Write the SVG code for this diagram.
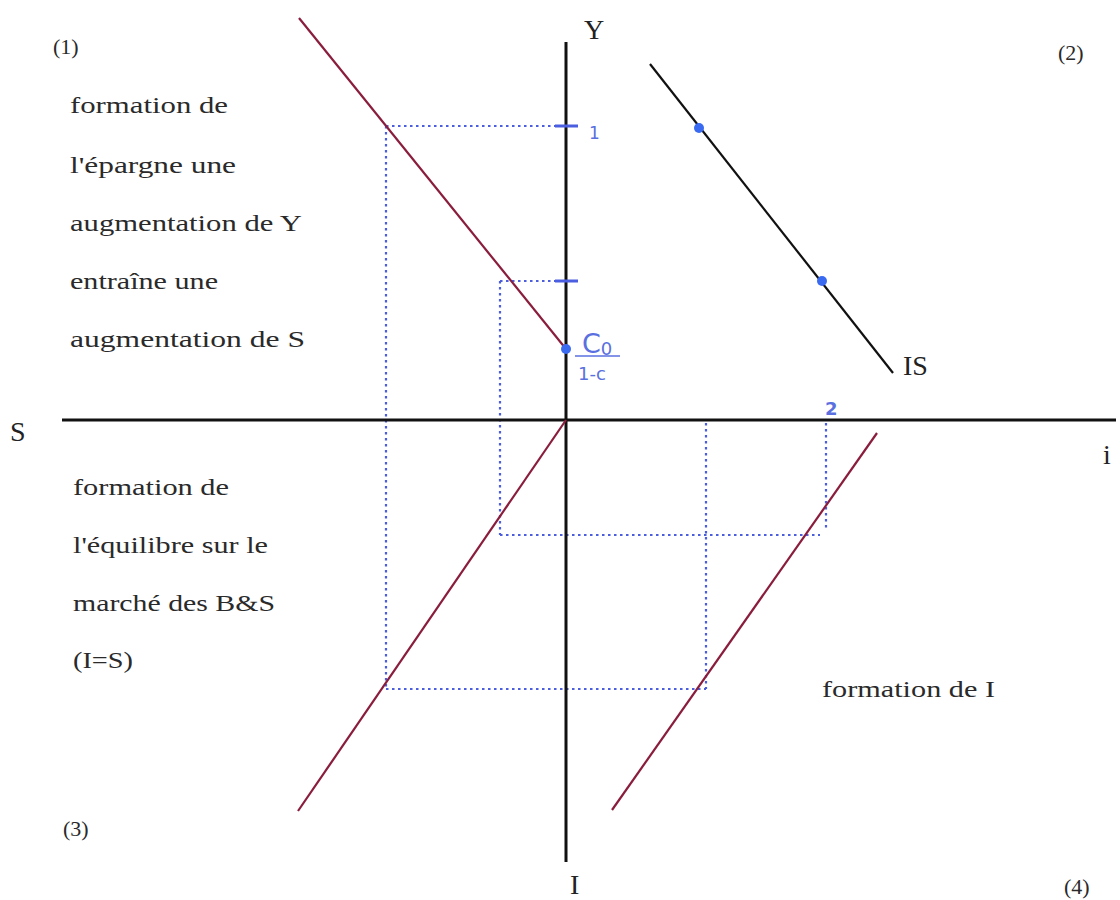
<svg xmlns="http://www.w3.org/2000/svg" width="1120" height="900" viewBox="0 0 1120 900">
<style>
.t{font-family:"Liberation Serif","DejaVu Serif",serif;fill:#2a2a2a;font-size:24px}
.n{font-family:"Liberation Serif","DejaVu Serif",serif;fill:#2a2a2a;font-size:22px}
.big{font-family:"Liberation Serif","DejaVu Serif",serif;fill:#222;font-size:28px}
.blue{font-family:"DejaVu Sans","Liberation Sans",sans-serif;fill:#5a6fe0}
.axis{stroke:#111;stroke-width:3;fill:none}
.red{stroke:#8a1c3c;stroke-width:2.2;fill:none}
.dot{stroke:#4b5ee0;stroke-width:2.2;stroke-dasharray:2.5 3.5;fill:none}
.tick{stroke:#4b5ee0;stroke-width:3}
.pt{fill:#3a6af0}
</style>
<rect width="1120" height="900" fill="#fff"/>
<g id="guides">
<line class="dot" x1="386" y1="126" x2="555" y2="126"/>
<line class="dot" x1="500" y1="281" x2="555" y2="281"/>
<line class="dot" x1="386" y1="126" x2="386" y2="689"/>
<line class="dot" x1="500" y1="281" x2="500" y2="535"/>
<line class="dot" x1="500" y1="535" x2="820" y2="535"/>
<line class="dot" x1="386" y1="689" x2="706" y2="689"/>
<line class="dot" x1="706" y1="423" x2="706" y2="689"/>
<line class="dot" x1="826" y1="423" x2="826" y2="530"/>
</g>
<g id="axes">
<line class="axis" x1="566" y1="42" x2="566" y2="862"/>
<line class="axis" x1="62" y1="420" x2="1116" y2="420"/>
<line class="tick" x1="555" y1="126" x2="578" y2="126"/>
<line class="tick" x1="555" y1="281" x2="578" y2="281"/>
</g>
<g id="curves">
<line class="red" x1="299" y1="18" x2="566" y2="349"/>
<line class="red" x1="566" y1="420" x2="298" y2="811"/>
<line class="red" x1="877" y1="433" x2="612" y2="810"/>
<line stroke="#111" stroke-width="2.2" x1="650" y1="64" x2="893" y2="373"/>
<circle class="pt" cx="566" cy="349" r="5"/>
<circle class="pt" cx="699" cy="128" r="5"/>
<circle class="pt" cx="822" cy="281" r="5"/>
</g>
<g id="labels">
<text class="big" x="584" y="39">Y</text>
<text class="big" x="10" y="441">S</text>
<text class="big" x="1103" y="464" font-size="25">i</text>
<text class="big" x="570" y="894">I</text>
<text class="big" x="903" y="375" font-size="30">IS</text>
<text class="n" x="53" y="54">(1)</text>
<text class="n" x="1058" y="60">(2)</text>
<text class="n" x="63" y="836">(3)</text>
<text class="n" x="1064" y="894">(4)</text>
<text class="blue" x="589" y="139" font-size="17">1</text>
<text class="blue" x="825" y="415" font-size="18" font-weight="bold">2</text>
<text class="blue" x="582" y="353" font-size="27">C<tspan font-size="18" dy="2">0</tspan></text>
<line x1="575" y1="356" x2="620" y2="356" stroke="#5a6fe0" stroke-width="1.6"/>
<text class="blue" x="578" y="380" font-size="18">1-c</text>
<text class="t" x="70" y="113" textLength="158" lengthAdjust="spacingAndGlyphs">formation de</text>
<text class="t" x="70" y="173" textLength="166" lengthAdjust="spacingAndGlyphs">l'épargne une</text>
<text class="t" x="70" y="231" textLength="232" lengthAdjust="spacingAndGlyphs">augmentation de Y</text>
<text class="t" x="70" y="289" textLength="148" lengthAdjust="spacingAndGlyphs">entraîne une</text>
<text class="t" x="70" y="347" textLength="235" lengthAdjust="spacingAndGlyphs">augmentation de S</text>
<text class="t" x="73" y="495" textLength="156" lengthAdjust="spacingAndGlyphs">formation de</text>
<text class="t" x="73" y="553" textLength="195" lengthAdjust="spacingAndGlyphs">l'équilibre sur le</text>
<text class="t" x="73" y="611" textLength="202" lengthAdjust="spacingAndGlyphs">marché des B&amp;S</text>
<text class="t" x="73" y="668" textLength="60" lengthAdjust="spacingAndGlyphs">(I=S)</text>
<text class="t" x="822" y="697" textLength="173" lengthAdjust="spacingAndGlyphs">formation de I</text>
</g>
</svg>
